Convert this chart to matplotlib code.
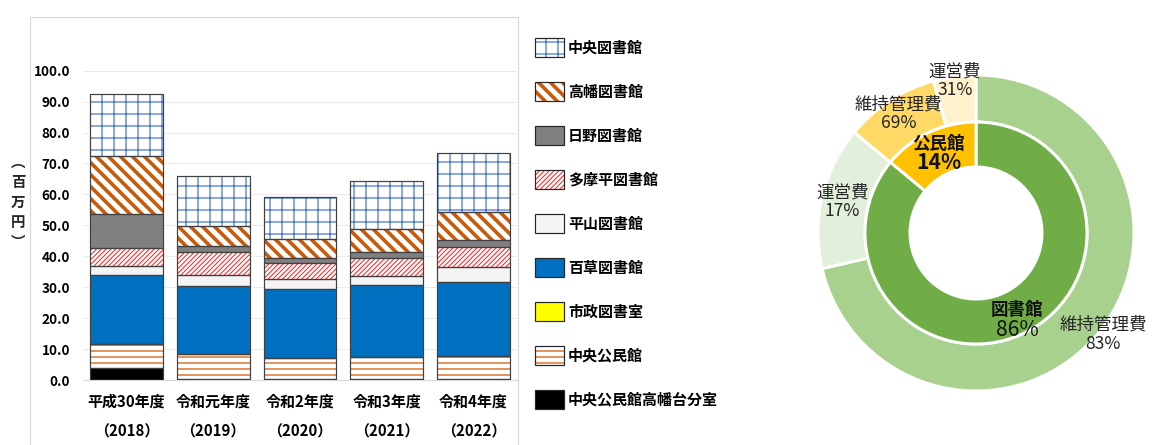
import matplotlib
matplotlib.use("Agg")
import matplotlib.pyplot as plt
from matplotlib.patches import Patch, Rectangle
import numpy as np

plt.rcParams['font.family'] = ['Noto Sans CJK JP', 'DejaVu Sans']

# --- data: stacked bar (million yen) ---
years = ['平成30年度\n（2018）', '令和元年度\n（2019）', '令和2年度\n（2020）',
         '令和3年度\n（2021）', '令和4年度\n（2022）']
takahatadai = [3.9, 0.3, 0.3, 0.4, 0.3]
chuo_kominkan = [7.7, 8.0, 6.9, 7.1, 7.6]
shisei = [0.0, 0.0, 0.0, 0.0, 0.0]
mogusa = [22.3, 22.1, 22.3, 23.1, 23.9]
hirayama = [3.0, 3.5, 3.1, 3.1, 4.6]
tamadaira = [5.7, 7.6, 5.3, 5.8, 6.7]
hino = [11.1, 1.9, 1.6, 2.0, 2.2]
takahata = [18.8, 6.5, 6.0, 7.2, 9.0]
chuo_lib = [20.0, 16.0, 13.8, 15.7, 19.0]

# --- data: donut (%) ---
groups = ['図書館', '公民館']
group_share = [86, 14]
items = ['維持管理費', '運営費']
lib_share = [83, 17]
kom_share = [69, 31]

W, H = 1157, 445
fig = plt.figure(figsize=(W / 72, H / 72), dpi=72)

# chart area frame
fig.add_artist(Rectangle((30 / W, -0.1), (518 - 30) / W, (H - 17) / H + 0.1,
                         transform=fig.transFigure, fill=False,
                         edgecolor='#D9D9D9', linewidth=1.2))

ax = fig.add_axes([83 / W, (H - 380) / H, (517 - 83) / W, (380 - 70.7) / H])

# (label, values, face, hatch, hatch colour, hatch lw)
series = [
    ('中央公民館高幡台分室', takahatadai, '#000000', None, None, 0),
    ('中央公民館', chuo_kominkan, 'white', '--', '#E07B3A', 1.6),
    ('市政図書室', shisei, '#FFFF00', None, None, 0),
    ('百草図書館', mogusa, '#0070C0', None, None, 0),
    ('平山図書館', hirayama, '#F4F4F4', None, None, 0),
    ('多摩平図書館', tamadaira, 'white', '/////', '#FF2020', 1.0),
    ('日野図書館', hino, '#808080', None, None, 0),
    ('高幡図書館', takahata, 'white', '\\\\', '#C55A11', 3.6),
    ('中央図書館', chuo_lib, 'white', '+', '#4472C4', 1.2),
]
hatch_lw = {h: lw for _, _, _, h, _, lw in series if h}

x = np.arange(len(years))
bottom = np.zeros(len(years))
handles = []
edge = '#404040'
for label, vals, face, hatch, hc, hlw in series:
    vals = np.array(vals)
    if hatch:
        with plt.rc_context({'hatch.linewidth': hlw}):
            bars = ax.bar(x, vals, 0.84, bottom=bottom, color=face,
                          edgecolor=hc, linewidth=0, hatch=hatch, zorder=2)
        for b in bars:
            try:
                b.set_hatch_linewidth(hlw)
            except AttributeError:
                pass
    else:
        ax.bar(x, vals, 0.84, bottom=bottom, color=face, linewidth=0, zorder=2)
    ax.bar(x, vals, 0.84, bottom=bottom, fill=False, edgecolor=edge,
           linewidth=1.2, zorder=3)
    p1 = Patch(facecolor=face, edgecolor=hc if hc else face, hatch=hatch, linewidth=0)
    p2 = Patch(fill=False, edgecolor='#262626', linewidth=1.2)
    handles.append(((p1, p2), label))
    bottom += vals

ax.set_xlim(-0.5, 4.5)
ax.set_ylim(0, 100)
ax.set_yticks(np.arange(0, 101, 10))
ax.set_yticklabels([f'{v:.1f}' for v in np.arange(0, 101, 10)],
                   fontsize=13.5, fontweight='bold')
ax.set_xticks(x)
ax.set_xticklabels(years, fontsize=15, fontweight='bold', linespacing=2.0)
ax.tick_params(axis='y', length=0, pad=13)
ax.tick_params(axis='x', length=0, pad=14)
ax.grid(axis='y', color='#EBEBEB', linewidth=1, zorder=0)
for s in ['top', 'right', 'left']:
    ax.spines[s].set_visible(False)
ax.spines['bottom'].set_color('#D9D9D9')
ax.spines['bottom'].set_linewidth(1.2)

fig.text(18 / W, 1 - 203 / H, '︵\n百\n万\n円\n︶', fontsize=14.5, fontweight='bold',
         ha='center', va='center', linespacing=1.55, color='#262626')

handles = handles[::-1]
leg = fig.legend([h for h, _ in handles], [l for _, l in handles],
                 loc='upper left', bbox_to_anchor=(535 / W, 1 - 38 / H),
                 frameon=False, handlelength=1.95, handleheight=1.6,
                 labelspacing=1.65, handletextpad=0.25, borderpad=0, borderaxespad=0,
                 prop={'weight': 'bold', 'size': 15})
# legend swatches get their own hatch line widths
for p in leg.findobj(Rectangle):
    h = p.get_hatch()
    if h in hatch_lw:
        try:
            p.set_hatch_linewidth(hatch_lw[h])
        except AttributeError:
            pass

# --- donut ---
R = 158.0
dax = fig.add_axes([(976 - 160) / W, (H - 233 - 160) / H, 320 / W, 320 / H])
outer_vals = [group_share[0] * s / 100 for s in lib_share] + \
             [group_share[1] * s / 100 for s in kom_share]
outer_labels = [f'{i}\n{s}%' for i, s in zip(items, lib_share)] + \
               [f'{i}\n{s}%' for i, s in zip(items, kom_share)]
outer_colors = ['#A9D18E', '#E2EFDA', '#FFD966', '#FFF2CC']
inner_colors = ['#70AD47', '#FFC000']

w_out, _ = dax.pie(outer_vals, radius=1.0, startangle=90, counterclock=False,
                   colors=outer_colors,
                   wedgeprops=dict(width=(158 - 111) / R, edgecolor='white', linewidth=3))
w_in, _ = dax.pie(group_share, radius=111 / R, startangle=90, counterclock=False,
                  colors=inner_colors,
                  wedgeprops=dict(width=(111 - 66) / R, edgecolor='white', linewidth=3))
lim = 160 / R
dax.set_xlim(-lim, lim)
dax.set_ylim(-lim, lim)
dax.set_aspect('equal')
dax.axis('off')


def mid(w):
    a = np.deg2rad((w.theta1 + w.theta2) / 2)
    return np.cos(a), np.sin(a)


outer_r = [1.03, 0.87, 0.90, 0.975]
for w, lab, r in zip(w_out, outer_labels, outer_r):
    cx, cy = mid(w)
    dax.text(cx * r, cy * r, lab, ha='center', va='center', fontsize=17.5,
             color='#262626', linespacing=1.05)

inner_r = [0.61, 0.557]
inner_weight = ['normal', 'bold']
for w, g, s, r, fw in zip(w_in, groups, group_share, inner_r, inner_weight):
    cx, cy = mid(w)
    dax.text(cx * r, cy * r + 0.005, g, ha='center', va='bottom', fontsize=17.5,
             fontweight='bold', color='#111111')
    dax.text(cx * r, cy * r + 0.01, f'{s}%', ha='center', va='top', fontsize=21,
             fontweight=fw, color='#111111')

fig.savefig('out.png', dpi=72)
